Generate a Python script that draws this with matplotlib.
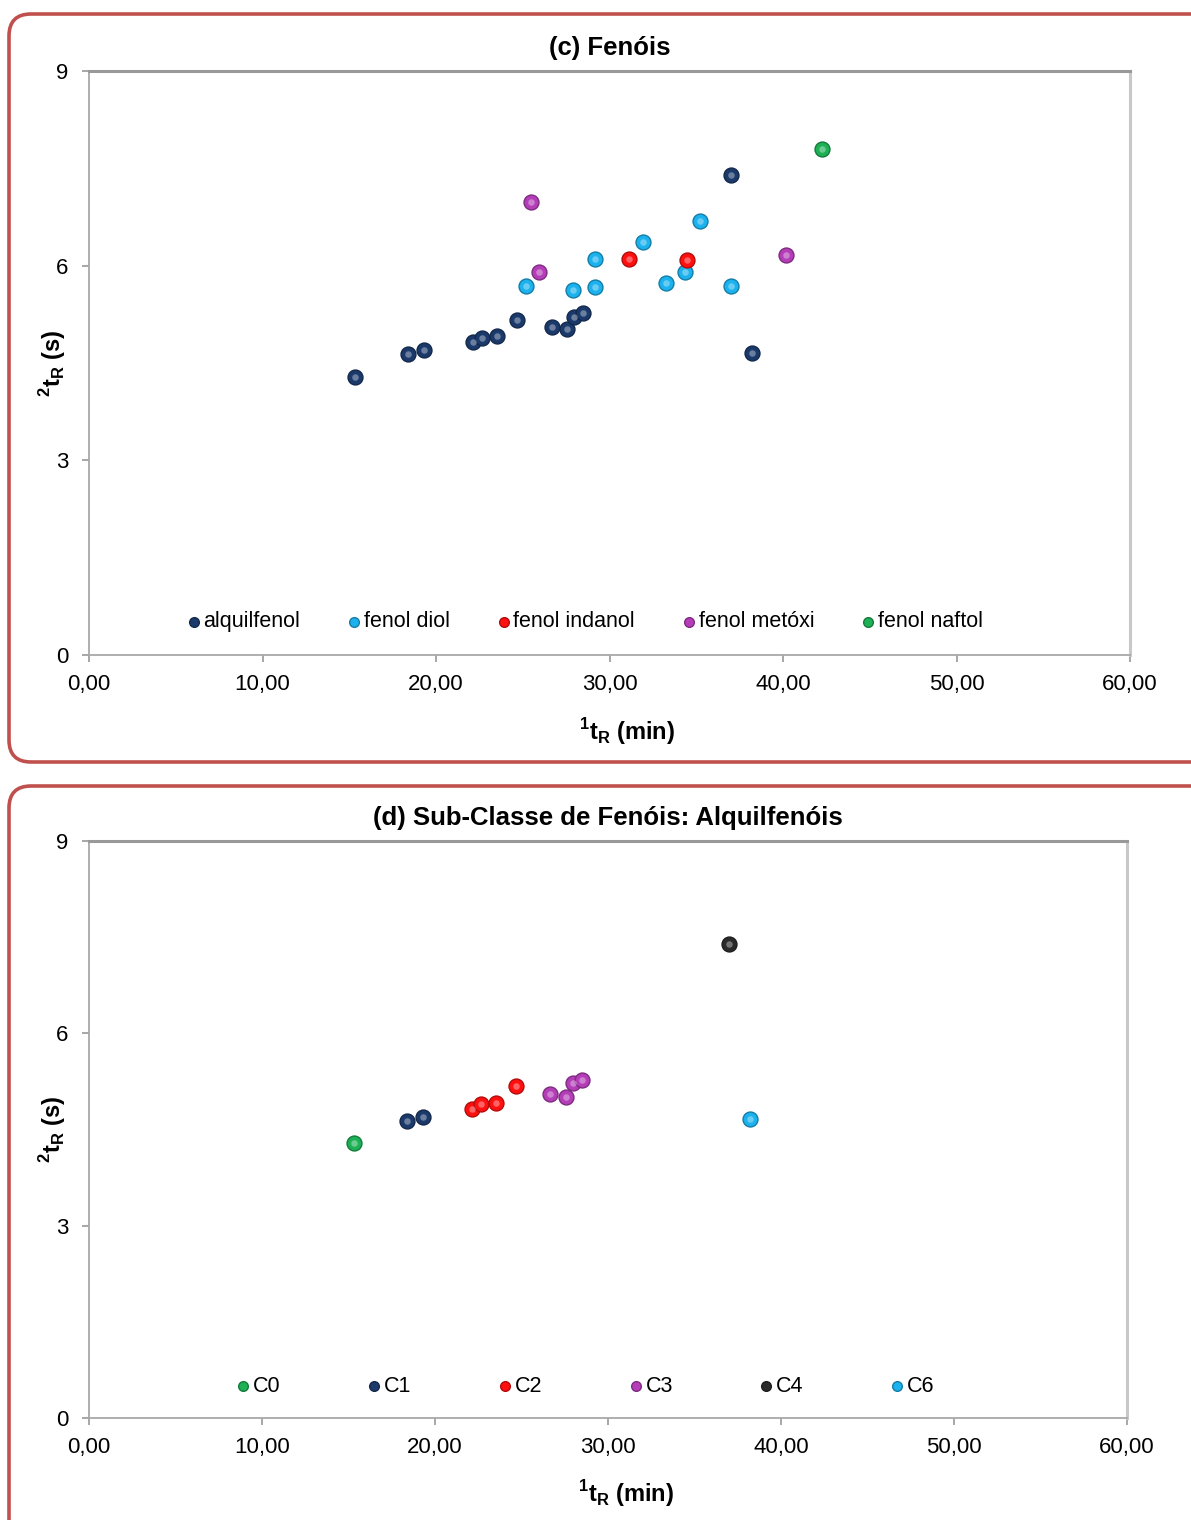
import matplotlib.pyplot as plt
from matplotlib.patches import FancyBboxPatch
from matplotlib.colors import to_rgb

plt.rcParams['font.family'] = ['Liberation Sans', 'DejaVu Sans']
plt.rcParams['mathtext.fontset'] = 'custom'
plt.rcParams['mathtext.rm'] = 'Liberation Sans'
plt.rcParams['mathtext.bf'] = 'Liberation Sans:bold'

# (c) phenol classes: 1tR (min), 2tR (s)
alquil_x = [15.33, 18.40, 19.31, 22.11, 22.63, 23.50, 24.69, 26.67, 27.57, 27.97, 28.49, 36.98, 38.21]
alquil_y = [4.29, 4.64, 4.70, 4.82, 4.89, 4.92, 5.17, 5.06, 5.02, 5.21, 5.27, 7.39, 4.66]
diol_x = [25.19, 27.88, 29.16, 29.16, 31.91, 33.26, 34.33, 35.22, 36.98]
diol_y = [5.69, 5.62, 6.11, 5.67, 6.36, 5.73, 5.90, 6.69, 5.69]
indanol_x = [31.14, 34.45]
indanol_y = [6.11, 6.08]
metoxi_x = [25.48, 25.92, 40.15]
metoxi_y = [6.98, 5.91, 6.16]
naftol_x = [42.25]
naftol_y = [7.80]

# (d) alkylphenols by carbon number of the alkyl chain
c0_x, c0_y = [15.30], [4.29]
c1_x, c1_y = [18.40, 19.30], [4.64, 4.69]
c2_x, c2_y = [22.12, 22.64, 23.51, 24.68], [4.82, 4.90, 4.92, 5.18]
c3_x, c3_y = [26.62, 27.56, 27.96, 28.48], [5.05, 5.01, 5.22, 5.27]
c4_x, c4_y = [36.97], [7.39]
c6_x, c6_y = [38.21], [4.66]

NAVY = '#1B3A6B'
CYAN = '#1CB2EE'
RED = '#FF1010'
MAGENTA = '#B43DB8'
GREEN = '#1DB055'
BLACK = '#2A2A2A'

panel_c = [('alquilfenol', alquil_x, alquil_y, NAVY),
           ('fenol diol', diol_x, diol_y, CYAN),
           ('fenol indanol', indanol_x, indanol_y, RED),
           ('fenol metóxi', metoxi_x, metoxi_y, MAGENTA),
           ('fenol naftol', naftol_x, naftol_y, GREEN)]
panel_d = [('C0', c0_x, c0_y, GREEN),
           ('C1', c1_x, c1_y, NAVY),
           ('C2', c2_x, c2_y, RED),
           ('C3', c3_x, c3_y, MAGENTA),
           ('C4', c4_x, c4_y, BLACK),
           ('C6', c6_x, c6_y, CYAN)]

xticks = [0, 10, 20, 30, 40, 50, 60]
yticks = [0, 3, 6, 9]

fig = plt.figure(figsize=(11.91, 15.2), dpi=100)

# rounded red frames around each chart (inches)
for (x0, y0, w, h) in [(0.09, 7.58, 12.5, 7.48), (0.09, -0.5, 12.5, 7.84)]:
    fig.patches.append(FancyBboxPatch((x0, y0), w, h,
                                      boxstyle='round,pad=0,rounding_size=0.22',
                                      transform=fig.dpi_scale_trans,
                                      facecolor='none', edgecolor='#C0504D',
                                      linewidth=2.6))


def shade(c, f):
    r, g, b = to_rgb(c)
    return (r * f, g * f, b * f)


def draw(ax, series, title, leg_x, leg_y, colspace):
    for name, xs, ys, col in series:
        ax.scatter(xs, ys, s=115, color=col, edgecolor=shade(col, 0.7),
                   linewidth=1.0, zorder=3, label=name)
        # soft highlight on each bubble
        ax.scatter(xs, ys, s=22, color='white', alpha=0.35, linewidth=0,
                   zorder=4)
    ax.set_xlim(0, 60)
    ax.set_ylim(0, 9)
    ax.set_xticks(xticks)
    ax.set_xticklabels([f'{v:.2f}'.replace('.', ',') for v in xticks])
    ax.set_yticks(yticks)
    ax.tick_params(labelsize=16, colors='#A0A0A0', labelcolor='black',
                   length=5, width=1.3, direction='out')
    ax.tick_params(axis='x', pad=9)
    ax.tick_params(axis='y', pad=10)
    for side in ['left', 'bottom']:
        ax.spines[side].set_color('#A8A8A8')
        ax.spines[side].set_linewidth(1.3)
    ax.spines['top'].set_color('#999999')
    ax.spines['top'].set_linewidth(2.2)
    ax.spines['right'].set_color('#C8C8C8')
    ax.spines['right'].set_linewidth(2.2)
    ax.set_xlabel(r'$^{\mathbf{1}}\mathbf{t_{R}}$ (min)', fontsize=17,
                  fontweight='bold')
    ax.set_ylabel(r'$^{\mathbf{2}}\mathbf{t_{R}}$ (s)', fontsize=17,
                  fontweight='bold')
    ax.text(0.5, 1.04, title, transform=ax.transAxes, ha='center',
            va='center', fontsize=18.5, fontweight='bold')
    leg = ax.legend(loc='center', bbox_to_anchor=(leg_x, leg_y), ncol=len(series),
                    frameon=False, fontsize=15.5, handlelength=0.3,
                    handletextpad=0.3, columnspacing=colspace,
                    markerscale=0.65, borderpad=0)
    return leg


ax_c = fig.add_axes([89 / 1191, 1 - 655 / 1520, 1041 / 1191, 584 / 1520])
draw(ax_c, panel_c, '(c) Fenóis', 0.478, 0.057, 2.35)
ax_c.xaxis.set_label_coords(0.517, -0.105)
ax_c.yaxis.set_label_coords(-0.02, 0.5)

ax_d = fig.add_axes([89 / 1191, 1 - 1418 / 1520, 1038 / 1191, 577 / 1520])
draw(ax_d, panel_d, '(d) Sub-Classe de Fenóis: Alquilfenóis', 0.48, 0.055, 4.2)
ax_d.xaxis.set_label_coords(0.517, -0.105)
ax_d.yaxis.set_label_coords(-0.02, 0.5)

fig.savefig('out.png', dpi=100)
